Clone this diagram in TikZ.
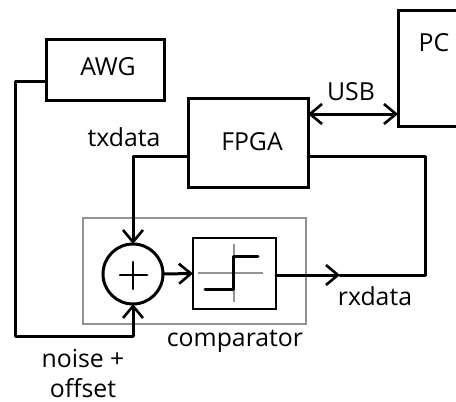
\documentclass[tikz,border=0pt]{standalone}
\usepackage{fontspec}
\setmainfont{Open Sans}
\usetikzlibrary{arrows.meta}
\tikzset{
  x=1pt,y=-1pt,
  block/.style={draw=black,line width=3pt,fill=none,inner sep=0pt,outer sep=0pt},
  wire/.style={draw=black,line width=3pt,line cap=round,line join=round},
  arrowwire/.style={wire,-{Straight Barb[length=12pt,width=20pt,line width=2.6pt]}},
  biwire/.style={wire,{Straight Barb[length=12pt,width=20pt,line width=2.6pt]}-{Straight Barb[length=12pt,width=20pt,line width=2.6pt]}},
  label/.style={inner sep=0pt,font=\fontsize{24.8}{26}\selectfont},
  grayline/.style={draw=gray!85,line width=1.8pt},
}
\begin{document}
\begin{tikzpicture}
\useasboundingbox (0,0) rectangle (456,402);
% blocks
\node[grayline,minimum width=223pt,minimum height=106pt,inner sep=0pt] (cmpbox) at (194.5,271) {};
\node[block,minimum width=118pt,minimum height=61pt] (awg) at (105,69.5) {};
\node[block,minimum width=120pt,minimum height=89pt] (fpga) at (248,142.5) {};
\node[block,minimum width=80pt,minimum height=116pt] (pc) at (438,68) {};
\node[block,circle,minimum size=60pt] (sum) at (133,274) {};
\node[block,line width=2pt,minimum width=83pt,minimum height=71pt] (cmp) at (234.5,273.5) {};
% labels
\node[label] (awgt) at (108,67) {AWG};
\node[label] (fpgat) at (252,142) {FPGA};
\node[label] (pct) at (434,43) {PC};
\node[label] (usbt) at (351,92) {USB};
\node[label] (txt) at (124,137) {txdata};
\node[label] (rxt) at (375,296) {rxdata};
\node[label] (cmpt) at (235,341) {comparator};
\node[label] (noiset) at (83,359) {noise +};
\node[label] (offt) at (83,388) {offset};
% plus sign
\draw[wire,line width=2.4pt] (120,275) -- (147,275);
\draw[wire,line width=2.4pt] (133,262) -- (133,289);
% comparator symbol
\draw[draw=gray!85,line width=1.4pt] (198,273) -- (263,273);
\draw[draw=gray!85,line width=1.4pt] (234,244) -- (234,302);
\draw[wire] (205,289) -- (233,289) -- (233,256) -- (258,256);
% connectors
\coordinate (c1) at (15,81);
\coordinate (c2) at (15,336);
\coordinate (c3) at (133,336);
\coordinate (c4) at (133,156);
\coordinate (c5) at (425,156);
\coordinate (c6) at (425,275);
\coordinate (c7) at (340,275);
\coordinate (c8) at (276,275);
\coordinate (c9) at (308,114);
\coordinate (c10) at (398,114);
\draw[biwire] (c9) -- (c10);
\draw[wire] (awg.west |- c1) -- (c1) -- (c2) -- (c3);
\draw[arrowwire] (c3) -- (sum.south);
\draw[arrowwire] (fpga.west |- c4) -- (c4) -- (sum.north);
\draw[arrowwire] (sum.east) -- (cmp.west);
\draw[wire] (fpga.east |- c5) -- (c5) -- (c6) -- (c7);
\draw[arrowwire] (c8) -- (c7);
\end{tikzpicture}
\end{document}
